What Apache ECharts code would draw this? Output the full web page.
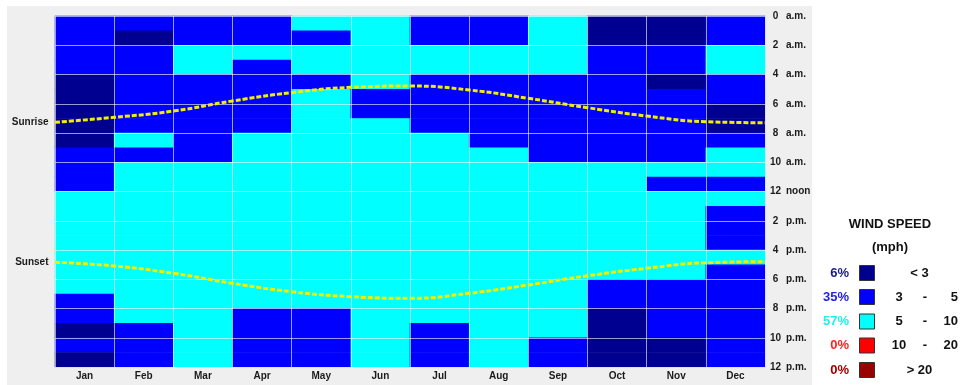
<!DOCTYPE html>
<html>
<head>
<meta charset="utf-8">
<script src="https://cdn.jsdelivr.net/npm/echarts@6/dist/echarts.min.js"></script>
<style>
html,body{margin:0;padding:0;background:#fff;}
#c{width:962px;height:385px;}
</style>
</head>
<body>
<div id="c"></div>
<script>
// ---- DATA ----
const months = ['Jan','Feb','Mar','Apr','May','Jun','Jul','Aug','Sep','Oct','Nov','Dec'];
const hours = ['0','1','2','3','4','5','6','7','8','9','10','11','12','13','14','15','16','17','18','19','20','21','22','23'];
const hourTickNums = ['0','2','4','6','8','10','12','2','4','6','8','10','12'];
const hourTickSuffix = ['a.m.','a.m.','a.m.','a.m.','a.m.','a.m.','noon','p.m.','p.m.','p.m.','p.m.','p.m.','p.m.'];

// wind speed class per hour (0: <3, 1: 3-5, 2: 5-10, 3: 10-20, 4: >20)
const janClass = [1,1,1,1,0,0,0,0,0,1,1,1,2,2,2,2,2,2,2,1,1,0,1,0];
const febClass = [1,0,1,1,1,1,1,1,2,1,2,2,2,2,2,2,2,2,2,2,2,1,1,1];
const marClass = [1,1,2,2,1,1,1,1,1,1,2,2,2,2,2,2,2,2,2,2,2,2,2,2];
const aprClass = [1,1,2,1,1,1,1,1,2,2,2,2,2,2,2,2,2,2,2,2,1,1,1,1];
const mayClass = [2,1,2,2,1,2,2,2,2,2,2,2,2,2,2,2,2,2,2,2,1,1,1,1];
const junClass = [2,2,2,2,2,1,1,2,2,2,2,2,2,2,2,2,2,2,2,2,2,2,2,2];
const julClass = [1,1,2,2,1,1,1,1,2,2,2,2,2,2,2,2,2,2,2,2,2,1,1,1];
const augClass = [1,1,2,2,1,1,1,1,1,2,2,2,2,2,2,2,2,2,2,2,2,2,2,2];
const sepClass = [2,2,2,2,1,1,1,1,1,1,2,2,2,2,2,2,2,2,2,2,2,2,1,1];
const octClass = [0,0,1,1,1,1,1,1,1,1,2,2,2,2,2,2,2,2,1,1,0,0,0,0];
const novClass = [0,0,1,1,0,1,1,1,1,1,2,1,2,2,2,2,2,2,1,1,1,1,0,0];
const decClass = [1,1,2,2,1,1,0,0,1,2,2,1,2,1,1,1,2,1,1,1,1,1,1,1];
const monthClasses = [janClass,febClass,marClass,aprClass,mayClass,junClass,julClass,augClass,sepClass,octClass,novClass,decClass];

// sunrise / sunset (hour of day) at month boundaries, start of Jan .. end of Dec
const sunBoundary = [0,1,2,3,4,5,6,7,8,9,10,11,12];
const sunriseHours = [7.27,6.93,6.50,5.81,5.24,4.88,4.79,5.06,5.63,6.27,6.84,7.23,7.30];
const sunsetHours  = [16.84,17.09,17.59,18.28,18.85,19.19,19.30,18.96,18.39,17.76,17.25,16.87,16.80];

// legend
const legendPct = ['6%','35%','57%','0%','0%'];
const legendLow = ['< 3','3','5','10','> 20'];
const legendHigh = ['','5','10','20',''];
const classColors = ['#000090','#0000ff','#00ffff','#ff0000','#990000'];
const pctColors = ['#1a1a90','#2222e8','#22f0f0','#ff2222','#a00000'];

// ---- BUILD ----
const heatData = [];
monthClasses.forEach((arr, m) => arr.forEach((v, h) => heatData.push([m, h, v])));
const sunrisePts = sunBoundary.map((x, i) => i === 0
  ? {value:[x, sunriseHours[i]], label:{show:true, position:'left', distance:6, formatter:'Sunrise'}}
  : [x, sunriseHours[i]]);
const sunsetPts = sunBoundary.map((x, i) => i === 0
  ? {value:[x, sunsetHours[i]], label:{show:true, position:'left', distance:6, formatter:'Sunset'}}
  : [x, sunsetHours[i]]);

const FONT = 'Liberation Sans, Arial, sans-serif';
const gridLine = {show:true, lineStyle:{color:'rgba(255,255,255,0.6)', width:1}};

const graphics = [
  {type:'rect', z:-100, silent:true, shape:{x:7, y:6, width:805, height:390}, style:{fill:'#efefef'}},
  {type:'text', style:{text:'WIND SPEED', x:890, y:224, textAlign:'center', textVerticalAlign:'middle', font:'bold 13px ' + FONT, fill:'#111'}},
  {type:'text', style:{text:'(mph)', x:890, y:247, textAlign:'center', textVerticalAlign:'middle', font:'bold 13px ' + FONT, fill:'#111'}}
];
const rowY = [273, 297, 321.5, 345.5, 370];
legendPct.forEach((p, i) => {
  const y = rowY[i];
  graphics.push({type:'text', style:{text:p, x:849, y:y, textAlign:'right', textVerticalAlign:'middle', font:'bold 13px ' + FONT, fill:pctColors[i]}});
  graphics.push({type:'rect', shape:{x:859.5, y:y-7.5, width:15, height:15}, style:{fill:classColors[i], stroke:'#333', lineWidth:1}});
  if (legendHigh[i] === '') {
    graphics.push({type:'text', style:{text:legendLow[i], x:919.5, y:y, textAlign:'center', textVerticalAlign:'middle', font:'bold 13px ' + FONT, fill:'#111'}});
  } else {
    graphics.push({type:'text', style:{text:legendLow[i], x:899, y:y, textAlign:'center', textVerticalAlign:'middle', font:'bold 13px ' + FONT, fill:'#111'}});
    graphics.push({type:'text', style:{text:'-', x:925, y:y, textAlign:'center', textVerticalAlign:'middle', font:'bold 13px ' + FONT, fill:'#111'}});
    graphics.push({type:'text', style:{text:legendHigh[i], x:958, y:y, textAlign:'right', textVerticalAlign:'middle', font:'bold 13px ' + FONT, fill:'#111'}});
  }
});

const chart = echarts.init(document.getElementById('c'), null, {renderer:'canvas'});
chart.setOption({
  animation:false,
  backgroundColor:'#ffffff',
  textStyle:{fontFamily:FONT},
  graphic:graphics,
  grid:{left:55, top:16, width:710, height:351, containLabel:false},
  xAxis:[
    {type:'category', data:months, gridIndex:0, position:'bottom',
     axisLine:{show:false}, axisTick:{show:false}, splitLine:{show:false},
     axisLabel:{interval:0, margin:4, fontSize:10, fontWeight:'bold', color:'#1a1a1a', fontFamily:FONT}},
    {type:'value', min:0, max:12, interval:1, gridIndex:0, position:'top', z:10,
     axisLine:{show:false}, axisTick:{show:false}, axisLabel:{show:false}, splitLine:gridLine}
  ],
  yAxis:[
    {type:'category', data:hours, inverse:true, gridIndex:0, position:'left',
     axisLine:{show:false}, axisTick:{show:false}, axisLabel:{show:false}, splitLine:{show:false}},
    {type:'value', min:0, max:24, interval:2, inverse:true, gridIndex:0, position:'right', z:10,
     axisLine:{show:false}, axisTick:{show:false}, splitLine:gridLine,
     axisLabel:{margin:5, fontSize:10, fontWeight:'bold', color:'#1a1a1a', fontFamily:FONT,
       formatter:(v) => { const i = Math.round(v/2); return '{n|' + hourTickNums[i] + '}{s|' + hourTickSuffix[i] + '}'; },
       rich:{
         n:{width:11, align:'right', fontSize:10, fontWeight:'bold', color:'#1a1a1a', fontFamily:FONT},
         s:{padding:[0,0,0,5], align:'left', fontSize:10, fontWeight:'bold', color:'#1a1a1a', fontFamily:FONT}
       }}}
  ],
  visualMap:{show:false, type:'piecewise', dimension:2, seriesIndex:0,
    pieces:[{value:0, color:classColors[0]},{value:1, color:classColors[1]},{value:2, color:classColors[2]},{value:3, color:classColors[3]},{value:4, color:classColors[4]}]},
  series:[
    {type:'heatmap', xAxisIndex:0, yAxisIndex:0, data:heatData, itemStyle:{borderWidth:0}, emphasis:{disabled:true}},
    {type:'line', xAxisIndex:1, yAxisIndex:1, data:sunrisePts, smooth:0.5, z:20,
     showSymbol:true, symbol:'circle', symbolSize:1, itemStyle:{color:'rgba(0,0,0,0)'},
     label:{show:false, fontSize:10, fontWeight:'bold', color:'#1a1a1a', fontFamily:FONT},
     lineStyle:{color:'#f2ee00', width:3, type:[5,2]}},
    {type:'line', xAxisIndex:1, yAxisIndex:1, data:sunsetPts, smooth:0.5, z:20,
     showSymbol:true, symbol:'circle', symbolSize:1, itemStyle:{color:'rgba(0,0,0,0)'},
     label:{show:false, fontSize:10, fontWeight:'bold', color:'#1a1a1a', fontFamily:FONT},
     lineStyle:{color:'#f2ee00', width:3, type:[5,2]}}
  ]
});
</script>
</body>
</html>
